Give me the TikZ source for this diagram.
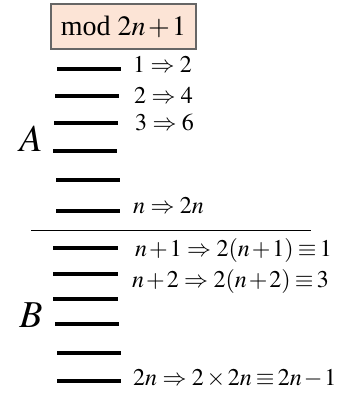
\documentclass[tikz,border=0pt]{standalone}
\usepackage{amsmath}
\usepackage{mathptmx}
\usepackage{fontspec}
\setmainfont{Liberation Serif}
\usepackage{tikz}

\newcommand{\tight}{\medmuskip=1.5mu\relax}
\newcommand{\eqv}{\mathord{\mkern3mu\equiv\mkern2.5mu}}
\newcommand{\tms}{\mathord{\mkern2mu\times\mkern2mu}}

\begin{document}
\begin{tikzpicture}[x=1pt,y=-1pt,font=\fontsize{24}{26}\selectfont\tight,
  bar/.style={line width=3.5pt},
  lbl/.style={anchor=west,inner sep=0pt}]
\useasboundingbox (0,0) rectangle (350,394);
\definecolor{peach}{HTML}{FCE4D6}
\node[draw=black!60,line width=1.2pt,fill=peach,minimum width=145pt,minimum height=45pt,inner sep=2pt,
  font=\fontsize{28}{30}\selectfont\tight] (modbox) at (123.5,26.5) {mod $2n+1$};
% part A
\draw[bar] (57,69) -- (121,69);   \node[lbl] (a1) at (133,64) {$1\Rightarrow 2$};
\draw[bar] (55,96) -- (119,96);   \node[lbl] (a2) at (134,95) {$2\Rightarrow 4$};
\draw[bar] (54,123) -- (118,123); \node[lbl] (a3) at (135,122) {$3\Rightarrow 6$};
\draw[bar] (53,151) -- (117,151);
\draw[bar] (56,180) -- (120,180);
\draw[bar] (56,211) -- (120,211); \node[lbl] (an) at (133,206) {$n\Rightarrow 2n$};
\node[font=\fontsize{38}{40}\selectfont,inner sep=0pt] (A) at (31,139) {$A$};
% divider
\draw[line width=1pt] (31,230) -- (311,230);
% part B
\draw[bar] (53,248) -- (118,248); \node[lbl] (b1) at (135,250) {$n+1\Rightarrow 2(n+1)\eqv 1$};
\draw[bar] (53,274) -- (118,274); \node[lbl] (b2) at (132,281) {$n+2\Rightarrow 2(n+2)\eqv 3$};
\draw[bar] (53,299) -- (118,299);
\draw[bar] (55,324) -- (119,324);
\draw[bar] (57,353) -- (121,353);
\draw[bar] (57,381) -- (121,381); \node[lbl] (bn) at (133,378) {$2n\Rightarrow 2\tms 2n\eqv 2n-1$};
\node[font=\fontsize{38}{40}\selectfont,inner sep=0pt] (B) at (31,315) {$B$};
\end{tikzpicture}
\end{document}
